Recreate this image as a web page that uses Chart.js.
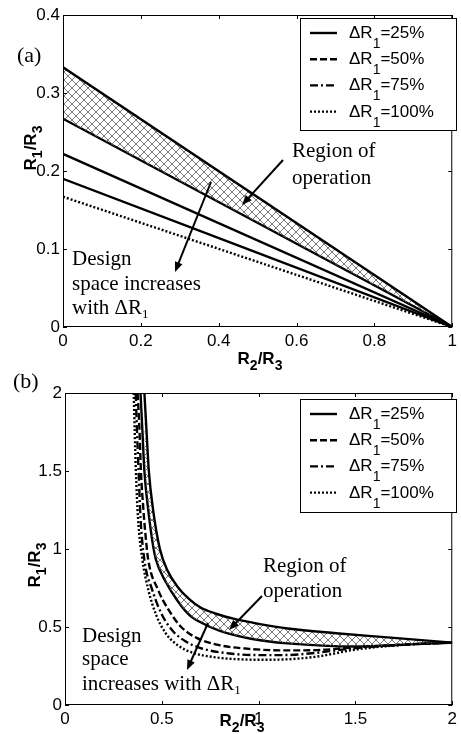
<!DOCTYPE html>
<html>
<head>
<meta charset="UTF-8">
<title>R1/R3 design space</title>
<script src="https://cdn.jsdelivr.net/npm/chart.js"></script>
<style>
  body { margin: 0; background: #fff; }
  .wrap { position: absolute; left: 0; width: 461px; }
  #wrapA { top: 0; height: 380px; }
  #wrapB { top: 360px; height: 374px; }
</style>
</head>
<body>
<div class="wrap" id="wrapA"><canvas id="chartA" width="461" height="380"></canvas></div>
<div class="wrap" id="wrapB"><canvas id="chartB" width="461" height="374"></canvas></div>
<script>
// ---- (a) straight lines, all meet at R2/R3 = 1
const aX    = [0, 1];
const aTop  = [0.333, 0];   // upper edge of the region of operation
const a25   = [0.267, 0];
const a50   = [0.222, 0];
const a75   = [0.190, 0];
const a100  = [0.167, 0];

// ---- (b) curves
const bTopX = [0.41, 0.42, 0.433, 0.455, 0.49, 0.53, 0.58, 0.64, 0.70, 0.78, 0.88, 1.0, 1.15, 1.40, 1.65, 2.0];
const bTopY = [2.0, 1.78, 1.5, 1.25, 1.0, 0.86, 0.76, 0.68, 0.625, 0.585, 0.55, 0.52, 0.49, 0.46, 0.435, 0.40];
const b25X  = [0.39, 0.40, 0.41, 0.43, 0.455, 0.47, 0.52, 0.58, 0.64, 0.70, 0.80, 0.96, 1.15, 1.50, 1.80, 2.0];
const b25Y  = [2.0, 1.75, 1.5, 1.25, 1.02, 0.93, 0.79, 0.67, 0.58, 0.53, 0.475, 0.425, 0.395, 0.375, 0.39, 0.40];
const b50X  = [0.375, 0.385, 0.392, 0.405, 0.415, 0.43, 0.48, 0.54, 0.60, 0.68, 0.79, 0.95, 1.13, 1.30, 1.50, 1.80, 2.0];
const b50Y  = [2.0, 1.75, 1.5, 1.25, 1.1, 0.93, 0.74, 0.60, 0.50, 0.43, 0.385, 0.36, 0.35, 0.352, 0.37, 0.39, 0.40];
const b75X  = [0.365, 0.372, 0.38, 0.39, 0.41, 0.45, 0.50, 0.56, 0.62, 0.70, 0.85, 1.0, 1.13, 1.30, 1.50, 1.80, 2.0];
const b75Y  = [2.0, 1.75, 1.5, 1.2, 0.93, 0.74, 0.58, 0.47, 0.41, 0.365, 0.33, 0.32, 0.32, 0.335, 0.365, 0.39, 0.40];
const b100X = [0.355, 0.36, 0.366, 0.377, 0.40, 0.43, 0.47, 0.52, 0.58, 0.66, 0.78, 0.90, 1.0, 1.13, 1.30, 1.50, 1.80, 2.0];
const b100Y = [2.0, 1.75, 1.5, 1.2, 0.93, 0.74, 0.58, 0.46, 0.385, 0.335, 0.305, 0.293, 0.29, 0.292, 0.31, 0.355, 0.39, 0.40];

const legendLabels = ['=25%', '=50%', '=75%', '=100%'];
const legendDash = [[], [7, 3], [8, 3, 2, 3], [2, 2]];

const SANS = '"Liberation Sans", Arial, sans-serif';
const SERIF = '"Liberation Serif", "Times New Roman", serif';

function pts(xs, ys) {
    return xs.map((x, i) => ({ x: x, y: ys[i] }));
}

// cross hatch for the region of operation
function hatch() {
    const c = document.createElement('canvas');
    c.width = 8; c.height = 8;
    const g = c.getContext('2d');
    g.strokeStyle = '#555';
    g.lineWidth = 0.8;
    g.beginPath();
    g.moveTo(0, 0); g.lineTo(8, 8);
    g.moveTo(0, 8); g.lineTo(8, 0);
    g.stroke();
    return g.createPattern(c, 'repeat');
}

function line(data, dash, fillPattern) {
    return {
        data: data,
        borderColor: '#000',
        borderWidth: 2.4,
        borderDash: dash,
        pointRadius: 0,
        cubicInterpolationMode: 'monotone',
        fill: fillPattern ? '+1' : false,
        backgroundColor: fillPattern || 'transparent'
    };
}

// text with subscripts: parts = [[text, isSub, family], ...]
function richWidth(ctx, parts, size, subSize, weight) {
    let w = 0;
    parts.forEach(p => {
        ctx.font = weight + ' ' + (p[1] ? subSize : size) + 'px ' + p[2];
        w += ctx.measureText(p[0]).width;
    });
    return w;
}
function drawRich(ctx, parts, x, y, size, subSize, drop, weight) {
    parts.forEach(p => {
        ctx.font = weight + ' ' + (p[1] ? subSize : size) + 'px ' + p[2];
        ctx.fillText(p[0], x, p[1] ? y + drop : y);
        x += ctx.measureText(p[0]).width;
    });
}

function arrow(ctx, x1, y1, x2, y2) {
    const a = Math.atan2(y2 - y1, x2 - x1);
    ctx.beginPath();
    ctx.moveTo(x1, y1);
    ctx.lineTo(x2 - 6 * Math.cos(a), y2 - 6 * Math.sin(a));
    ctx.lineWidth = 2;
    ctx.stroke();
    ctx.beginPath();
    ctx.moveTo(x2, y2);
    ctx.lineTo(x2 - 10 * Math.cos(a) + 4 * Math.sin(a), y2 - 10 * Math.sin(a) - 4 * Math.cos(a));
    ctx.lineTo(x2 - 10 * Math.cos(a) - 4 * Math.sin(a), y2 - 10 * Math.sin(a) + 4 * Math.cos(a));
    ctx.closePath();
    ctx.fill();
}

const labelX = [['R', 0, SANS], ['2', 1, SANS], ['/R', 0, SANS], ['3', 1, SANS]];
const labelY = [['R', 0, SANS], ['1', 1, SANS], ['/R', 0, SANS], ['3', 1, SANS]];

// frame, inward ticks, legend, axis titles, notes
function decor(cfg) {
    return {
        id: 'decor',
        afterDraw(chart) {
            const ctx = chart.ctx;
            const a = chart.chartArea;
            const xs = chart.scales.x, ys = chart.scales.y;
            ctx.save();
            ctx.strokeStyle = '#000';
            ctx.fillStyle = '#000';
            ctx.lineWidth = 1;
            ctx.strokeRect(a.left + 0.5, a.top + 0.5, a.right - a.left - 1, a.bottom - a.top - 1);
            ctx.beginPath();
            xs.ticks.forEach(t => {
                const px = Math.round(xs.getPixelForValue(t.value)) + 0.5;
                ctx.moveTo(px, a.bottom); ctx.lineTo(px, a.bottom - 4);
                ctx.moveTo(px, a.top); ctx.lineTo(px, a.top + 4);
            });
            ys.ticks.forEach(t => {
                const py = Math.round(ys.getPixelForValue(t.value)) + 0.5;
                ctx.moveTo(a.left, py); ctx.lineTo(a.left + 4, py);
                ctx.moveTo(a.right, py); ctx.lineTo(a.right - 4, py);
            });
            ctx.stroke();

            // legend
            const L = cfg.legend;
            ctx.fillStyle = '#fff';
            ctx.fillRect(L.x, L.y, L.w, L.h);
            ctx.strokeRect(L.x + 0.5, L.y + 0.5, L.w, L.h);
            ctx.fillStyle = '#000';
            legendLabels.forEach((lab, i) => {
                const base = L.y + 20 + i * 26.2;
                ctx.beginPath();
                ctx.setLineDash(legendDash[i]);
                ctx.lineWidth = 2.4;
                ctx.moveTo(L.x + 10, base - 5);
                ctx.lineTo(L.x + 37, base - 5);
                ctx.stroke();
                ctx.setLineDash([]);
                drawRich(ctx, [['\u0394R', 0, SANS], ['1', 1, SANS], [lab, 0, SANS]],
                    L.x + 49, base, 17, 14, 10, 'normal');
            });

            // axis titles
            const wx = richWidth(ctx, labelX, 17, 14, 'bold');
            drawRich(ctx, labelX, cfg.xTitle[0] - wx / 2, cfg.xTitle[1], 17, 14, 6, 'bold');
            const wy = richWidth(ctx, labelY, 17, 14, 'bold');
            ctx.save();
            ctx.translate(cfg.yTitle[0], cfg.yTitle[1]);
            ctx.rotate(-Math.PI / 2);
            drawRich(ctx, labelY, -wy / 2, 0, 17, 14, 6, 'bold');
            ctx.restore();

            // notes and arrows
            cfg.notes.forEach(n => drawRich(ctx, n.parts, n.x, n.y, n.size, 13, 4, 'normal'));
            cfg.arrows.forEach(r => arrow(ctx, r[0], r[1], r[2], r[3]));
            ctx.restore();
        }
    };
}

function tickText(v) {
    return String(Number(v.toFixed(2)));
}

function options(xMax, xStep, yMax, yStep, yWidth, xHeight, padTop) {
    const tickFont = { family: SANS, size: 17 };
    return {
        responsive: false,
        animation: false,
        devicePixelRatio: 1,
        layout: { padding: { top: padTop, right: 3, left: 0, bottom: 0 } },
        plugins: { legend: { display: false }, tooltip: { enabled: false } },
        scales: {
            x: {
                type: 'linear', min: 0, max: xMax,
                ticks: { stepSize: xStep, color: '#000', font: tickFont, padding: 4, maxRotation: 0, autoSkip: false, callback: tickText },
                grid: { display: false, drawTicks: false },
                border: { display: false },
                afterFit(s) { s.height = xHeight; }
            },
            y: {
                min: 0, max: yMax,
                ticks: { stepSize: yStep, color: '#000', font: tickFont, padding: 3, autoSkip: false, callback: tickText },
                grid: { display: false, drawTicks: false },
                border: { display: false },
                afterFit(s) { s.width = yWidth; }
            }
        }
    };
}

const pattern = hatch();

// (a)
new Chart(document.getElementById('chartA'), {
    type: 'line',
    data: {
        datasets: [
            line(pts(aX, aTop), [], pattern),
            line(pts(aX, a25), []),
            line(pts(aX, a50), []),
            line(pts(aX, a75), []),
            line(pts(aX, a100), [2, 2])
        ]
    },
    options: options(1, 0.2, 0.4, 0.1, 63, 53, 15),
    plugins: [decor({
        legend: { x: 300, y: 18, w: 156, h: 112 },
        xTitle: [260, 364],
        yTitle: [36, 148],
        notes: [
            { parts: [['(a)', 0, SERIF]], x: 17, y: 62, size: 22 },
            { parts: [['Region of', 0, SERIF]], x: 292, y: 157, size: 21 },
            { parts: [['operation', 0, SERIF]], x: 292, y: 184, size: 21 },
            { parts: [['Design', 0, SERIF]], x: 72, y: 265, size: 21 },
            { parts: [['space increases', 0, SERIF]], x: 72, y: 290, size: 21 },
            { parts: [['with \u0394R', 0, SERIF], ['1', 1, SERIF]], x: 72, y: 314, size: 21 }
        ],
        arrows: [[283, 160, 242, 205], [211, 182, 175, 272]]
    })]
});

// (b)
new Chart(document.getElementById('chartB'), {
    type: 'line',
    data: {
        datasets: [
            line(pts(bTopX, bTopY), [], pattern),
            line(pts(b25X, b25Y), []),
            line(pts(b50X, b50Y), [7, 3]),
            line(pts(b75X, b75Y), [8, 3, 2, 3]),
            line(pts(b100X, b100Y), [2, 2])
        ]
    },
    options: options(2, 0.5, 2, 0.5, 65, 29, 33),
    plugins: [decor({
        legend: { x: 300, y: 39, w: 156, h: 113 },
        xTitle: [242, 366],
        yTitle: [40, 205],
        notes: [
            { parts: [['(b)', 0, SERIF]], x: 13, y: 28, size: 22 },
            { parts: [['Region of', 0, SERIF]], x: 263, y: 212, size: 21 },
            { parts: [['operation', 0, SERIF]], x: 263, y: 237, size: 21 },
            { parts: [['Design', 0, SERIF]], x: 82, y: 282, size: 21 },
            { parts: [['space', 0, SERIF]], x: 82, y: 305, size: 21 },
            { parts: [['increases with \u0394R', 0, SERIF], ['1', 1, SERIF]], x: 82, y: 330, size: 21 }
        ],
        arrows: [[262, 236, 229, 270], [208, 263, 187, 310]]
    })]
});
</script>
</body>
</html>
